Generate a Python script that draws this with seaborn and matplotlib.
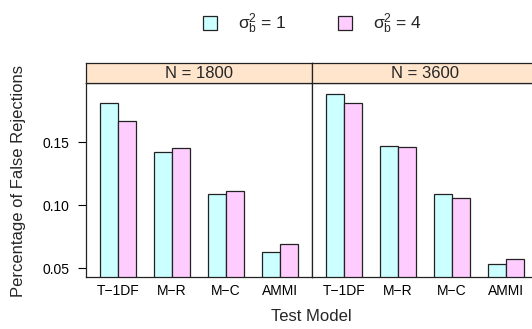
import matplotlib
matplotlib.use("Agg")
import matplotlib.pyplot as plt
import seaborn as sns
import pandas as pd
from matplotlib.patches import Patch

models = ["T\u22121DF", "M\u2212R", "M\u2212C", "AMMI"]
panels = ["N = 1800", "N = 3600"]
sigma_labels = ["\u03c3$_{\\mathregular{b}}^{\\mathregular{2}}$ = 1",
                "\u03c3$_{\\mathregular{b}}^{\\mathregular{2}}$ = 4"]
n1800_s1 = [0.181, 0.142, 0.109, 0.063]
n1800_s4 = [0.167, 0.145, 0.111, 0.069]
n3600_s1 = [0.188, 0.147, 0.109, 0.053]
n3600_s4 = [0.181, 0.146, 0.106, 0.057]
yticks = [0.05, 0.10, 0.15]
ytick_labels = ["0.05", "0.10", "0.15"]

rows = []
for panel, s1, s4 in [(panels[0], n1800_s1, n1800_s4), (panels[1], n3600_s1, n3600_s4)]:
    for m, a, b in zip(models, s1, s4):
        rows.append((panel, m, sigma_labels[0], a))
        rows.append((panel, m, sigma_labels[1], b))
df = pd.DataFrame(rows, columns=["panel", "model", "sigma", "value"])

sns.set_theme(style="white")
plt.rcParams["font.family"] = ["Liberation Sans", "DejaVu Sans"]
plt.rcParams["mathtext.fontset"] = "custom"
plt.rcParams["mathtext.rm"] = "Liberation Sans"
plt.rcParams["mathtext.it"] = "Liberation Sans"
plt.rcParams["mathtext.bf"] = "Liberation Sans:bold"

palette = {sigma_labels[0]: "#CCFFFF", sigma_labels[1]: "#FFCCFF"}

W, H = 532, 329
fig = plt.figure(figsize=(W / 100, H / 100), dpi=100)
fig.patch.set_facecolor("white")

ylo, yhi = 0.0429, 0.197
lefts = [86, 312]
pw = 226
ax_bottom, ax_top = 277, 83
strip_h = 20

for i, (panel, left) in enumerate(zip(panels, lefts)):
    ax = fig.add_axes([left / W, 1 - ax_bottom / H, pw / W, (ax_bottom - ax_top) / H])
    sub = df[df["panel"] == panel]
    sns.barplot(data=sub, x="model", y="value", hue="sigma", order=models,
                hue_order=sigma_labels, palette=palette, width=0.67, gap=0,
                edgecolor="#222222", linewidth=0.9, saturation=1, ax=ax,
                legend=False)
    ax.set_xlim(-0.6, 3.6)
    ax.set_ylim(ylo, yhi)
    ax.set_xlabel("")
    ax.set_ylabel("")
    for s in ax.spines.values():
        s.set_color("#222222")
        s.set_linewidth(0.9)
    ax.tick_params(axis="x", length=0, pad=5, labelsize=10, colors="black")
    if i == 0:
        ax.set_yticks(yticks)
        ax.set_yticklabels(ytick_labels)
        ax.tick_params(axis="y", left=True, length=5.5, width=0.8, pad=6.5,
                       labelsize=10, colors="black", direction="out")
    else:
        ax.set_yticks([])
    sax = fig.add_axes([left / W, 1 - ax_top / H, pw / W, strip_h / H])
    sax.set_facecolor("#FFE5CC")
    sax.set_xticks([])
    sax.set_yticks([])
    for s in sax.spines.values():
        s.set_color("#222222")
        s.set_linewidth(0.9)
    sax.text(0.5, 0.48, panel, ha="center", va="center", fontsize=12,
             transform=sax.transAxes)

fig.text(311 / W, 1 - 316.5 / H, "Test Model", ha="center", va="center", fontsize=12)
fig.text(19 / W, 1 - 181 / H, "Percentage of False Rejections", ha="center",
         va="center", rotation=90, fontsize=12)

handles = [Patch(facecolor=palette[s], edgecolor="#222222", linewidth=0.9) for s in sigma_labels]
fig.legend(handles, sigma_labels, loc="center", bbox_to_anchor=(312.5 / W, 1 - 24 / H),
           ncol=2, frameon=False, fontsize=12.5, handlelength=0.8, handleheight=0.8,
           handletextpad=1.2, columnspacing=3.0)

fig.savefig("out.png", dpi=100)
